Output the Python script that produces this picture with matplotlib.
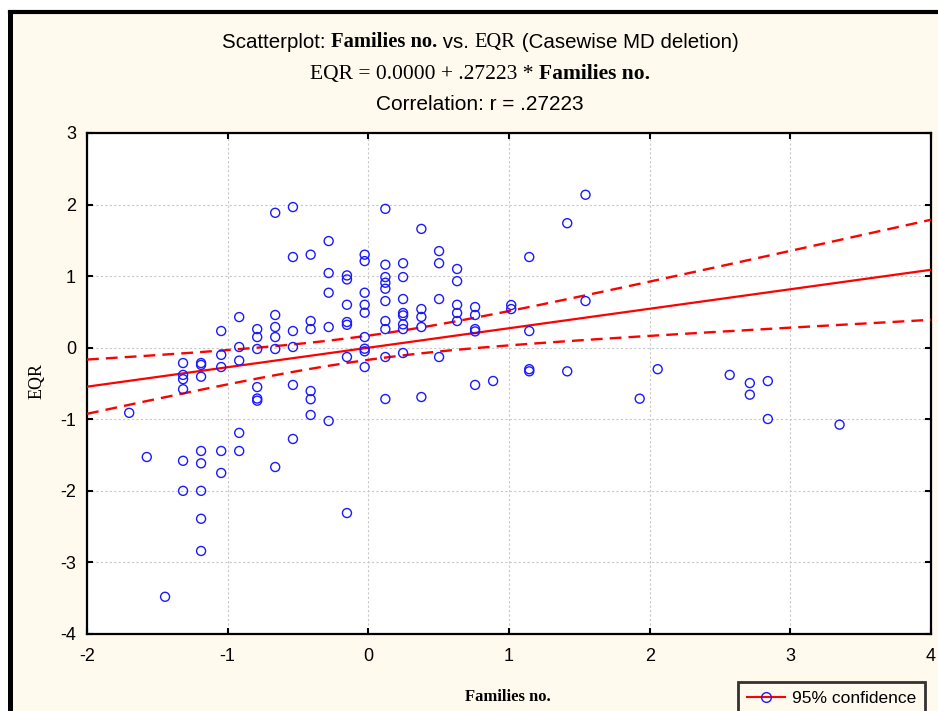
import numpy as np
import matplotlib
matplotlib.use("Agg")
import matplotlib.pyplot as plt
from matplotlib.lines import Line2D
from matplotlib.patches import Rectangle

# standardized scores (Families no. vs EQR)
fam_no = ([-1.70] + [-1.575] + [-1.445]
          + [-1.317] * 6 + [-1.189] * 8 + [-1.046] * 5 + [-0.918] * 5
          + [-0.79] * 6 + [-0.662] * 6 + [-0.536] * 6 + [-0.41] * 6
          + [-0.282] * 5 + [-0.152] * 7 + [-0.026] * 9 + [0.121] * 10
          + [0.247] * 8 + [0.377] * 5 + [0.503] * 4 + [0.631] * 5
          + [0.759] * 5 + [0.887] + [1.016] * 2 + [1.144] * 4 + [1.414] * 2
          + [1.544] * 2 + [1.929] + [2.057] + [2.569] + [2.712] * 2
          + [2.84] * 2 + [3.35])
eqr = [-0.91, -1.527, -3.48,
       -0.214, -0.38, -0.44, -0.58, -1.58, -2.0,
       -0.214, -0.24, -0.405, -1.443, -1.615, -2.0, -2.39, -2.84,
       0.233, -0.10, -0.27, -1.443, -1.75,
       0.428, 0.01, -0.18, -1.19, -1.443,
       0.26, 0.149, -0.018, -0.55, -0.71, -0.74,
       1.885, 0.457, 0.289, 0.149, -0.018, -1.667,
       1.965, 1.267, 0.233, 0.01, -0.52, -1.275,
       1.30, 0.373, 0.26, -0.605, -0.72, -0.94,
       1.49, 1.043, 0.768, 0.289, -1.024,
       1.01, 0.954, 0.60, 0.359, 0.32, -0.13, -2.31,
       1.30, 1.21, 0.768, 0.60, 0.489, 0.149, -0.014, -0.05, -0.27,
       1.94, 1.16, 0.987, 0.908, 0.824, 0.652, 0.373, 0.26, -0.13, -0.717,
       1.18, 0.987, 0.68, 0.485, 0.451, 0.326, 0.26, -0.074,
       1.66, 0.54, 0.43, 0.289, -0.689,
       1.35, 1.18, 0.68, -0.13,
       1.10, 0.93, 0.60, 0.485, 0.373,
       0.568, 0.457, 0.26, 0.228, -0.52,
       -0.465,
       0.596, 0.54,
       1.267, 0.233, -0.30, -0.33,
       1.74, -0.33,
       2.137, 0.652,
       -0.712, -0.30, -0.38,
       -0.494, -0.656,
       -0.466, -0.996,
       -1.075]

intercept = 0.0
slope = 0.27223
r = 0.27223
xticks = [-2, -1, 0, 1, 2, 3, 4]
yticks = [-4, -3, -2, -1, 0, 1, 2, 3]

BG = "#fff9ee"
SANS = "Liberation Sans"
SERIF = "Liberation Serif"

fig = plt.figure(figsize=(9.38, 7.11), dpi=100)
fig.patch.set_facecolor("white")
W, H = 938, 711

# cream panel with heavy black frame on top/left
fig.patches.append(Rectangle((9.5 / W, 0), 1, 1 - 12 / H, transform=fig.transFigure,
                             facecolor=BG, edgecolor="none", zorder=-2))
fig.add_artist(Line2D([9.5 / W, 9.5 / W], [0, 1 - 12 / H], color="black", lw=3.6,
                      transform=fig.transFigure, solid_capstyle="projecting", zorder=-1))
fig.add_artist(Line2D([9.5 / W, 1], [1 - 12 / H, 1 - 12 / H], color="black", lw=3.0,
                      transform=fig.transFigure, solid_capstyle="projecting", zorder=-1))

ax = fig.add_axes([87 / W, 77 / H, 844 / W, 501 / H])
ax.set_facecolor("white")

# regression line with 95% confidence band
n = len(eqr)
xx = np.linspace(-2, 4, 200)
yy = intercept + slope * xx
s = np.sqrt((1 - r ** 2) * (n - 1) / (n - 2))
hw = 1.979 * s * np.sqrt(1.0 / n + xx ** 2 / (n - 1))
ax.plot(xx, yy, color="red", lw=1.6, zorder=3)
ax.plot(xx, yy + hw, color="red", lw=1.7, ls=(0, (5, 3)), zorder=3)
ax.plot(xx, yy - hw, color="red", lw=1.7, ls=(0, (5, 3)), zorder=3)

ax.scatter(fam_no, eqr, s=42, facecolors="none", edgecolors="#1a1aff",
           linewidths=1.0, zorder=4)

ax.set_xlim(-2, 4)
ax.set_ylim(-4, 3)
ax.set_xticks(xticks)
ax.set_yticks(yticks)
ax.set_xticklabels([str(t) for t in xticks], fontsize=13, family=SANS)
ax.set_yticklabels([str(t) for t in yticks], fontsize=13, family=SANS)
ax.tick_params(direction="in", length=4, width=1.5, top=True, right=True)
ax.tick_params(axis="x", pad=10)
ax.tick_params(axis="y", pad=8)
ax.grid(True, color="#c8c8c8", ls=(0, (2, 2)), lw=0.8)
ax.set_axisbelow(True)
for sp in ax.spines.values():
    sp.set_linewidth(1.6)

fig.text(37 / W, 1 - 381 / H, "EQR", rotation=90, family=SERIF, fontsize=13,
         ha="center", va="center")
fig.text(508 / W, 1 - 697 / H, "Families no.", family=SERIF, weight="bold",
         fontsize=12, ha="center", va="center")


def mixed_line(ypix, parts, xc=480, size=15):
    # lay out pieces of text in different fonts side by side, centred at xc
    rend = fig.canvas.get_renderer()
    texts = []
    for txt, fam, wt in parts:
        t = fig.text(0, 1 - ypix / H, txt, family=fam, weight=wt, fontsize=size,
                     va="center", ha="left")
        texts.append(t)
    widths = [t.get_window_extent(rend).width for t in texts]
    x = xc - sum(widths) / 2
    for t, w in zip(texts, widths):
        t.set_x(x / W)
        x += w


mixed_line(42, [("Scatterplot: ", SANS, "normal"), ("Families no.", SERIF, "bold"),
                (" vs. ", SANS, "normal"), ("EQR", SERIF, "normal"),
                (" (Casewise MD deletion)", SANS, "normal")], size=14.8)
mixed_line(74, [("EQR = 0.0000 + .27223 * ", SERIF, "normal"),
                ("Families no.", SERIF, "bold")], size=15.5)
mixed_line(104, [("Correlation: r = .27223", SANS, "normal")], size=15)

handle = Line2D([], [], color="red", lw=1.5, marker="o", markersize=7,
                markerfacecolor="none", markeredgecolor="#1a1aff")
leg = fig.legend([handle], ["95% confidence"], loc="upper left",
                 bbox_to_anchor=(738 / W, 1 - 682 / H), prop={"family": SANS, "size": 12.5},
                 frameon=True, fancybox=False, handlelength=2.2, borderpad=0.5,
                 handletextpad=0.4, borderaxespad=0)
leg.get_frame().set_edgecolor("black")
leg.get_frame().set_linewidth(2)
leg.get_frame().set_facecolor(BG)

fig.savefig("out.png", dpi=100, facecolor=fig.get_facecolor())
